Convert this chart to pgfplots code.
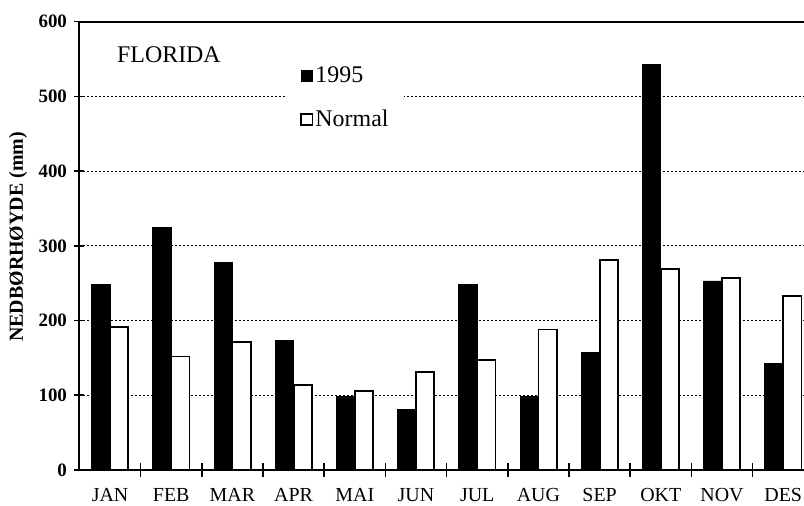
\documentclass[border=0pt]{standalone}
\usepackage{fontspec}
\setmainfont{Liberation Serif}
\usepackage{pgfplots}
\pgfplotsset{compat=1.18}
\pgfplotsset{sq legend/.style={legend image code/.code={%
    \draw[##1] (0bp,-2.8bp) rectangle (5.6bp,2.8bp);}}}

\begin{document}
\begin{tikzpicture}
\begin{axis}[
    name=ax,
    scale only axis,
    width=362.5bp,
    height=224.15bp,
    xmin=-0.507, xmax=11.34,
    ymin=0, ymax=600,
    axis x line*=bottom,
    axis y line*=left,
    axis line style={line width=0.9bp, -},
    ytick={0,100,...,600},
    xtick={0,...,11},
    xticklabels={JAN,FEB,MAR,APR,MAI,JUN,JUL,AUG,SEP,OKT,NOV,DES},
    minor xtick={0.5,1.5,...,10.5},
    tick align=center,
    major tick length=5bp,
    minor tick length=7bp,
    major x tick style={draw=none},
    tick style={black, line width=0.8bp},
    ymajorgrids,
    grid style={black, line width=0.5bp, dash pattern=on 1.2bp off 0.8bp},
    /pgf/number format/assume math mode=true,
    yticklabel style={font=\fontsize{9.5}{11}\selectfont\bfseries},
    xticklabel style={font=\fontsize{10}{12}\selectfont, inner sep=0pt, yshift=-6.3bp},
    ylabel={NEDBØRHØYDE (mm)},
    ylabel style={font=\fontsize{10}{12}\selectfont\bfseries,
        at={(axis description cs:-0.084,0.52)}, anchor=center},
    legend style={at={(axis description cs:0.287,0.923)}, anchor=north west,
        draw=none, fill=white, font=\fontsize{12}{13}\selectfont,
        inner xsep=6.5bp, inner ysep=4bp, row sep=10bp,
        nodes={inner sep=1bp}},
    legend cell align=left,
]
\addplot[ybar, bar width=0.3, bar shift=-0.15, fill=black, draw=black, sq legend]
    coordinates {
    (0,248) (1,325) (2,278) (3,173) (4,98) (5,81)
    (6,248) (7,99) (8,157) (9,543) (10,253) (11,142)
};
\addplot[ybar, bar width=0.3, bar shift=0.15, fill=white, draw=black, line width=0.9bp, sq legend]
    coordinates {
    (0,191) (1,152) (2,171) (3,114) (4,106) (5,131)
    (6,147) (7,188) (8,281) (9,269) (10,257) (11,233)
};
\legend{1995,Normal}
\draw[line width=0.9bp] (rel axis cs:0,1) -- (rel axis cs:1,1);
\node[anchor=west, font=\fontsize{12}{14}\selectfont, inner sep=0pt]
    at (axis cs:0.11,556) {FLORIDA};
\end{axis}
\pgfresetboundingbox
\path ([shift={(-39.5bp,-18bp)}]ax.south west) rectangle ([shift={(0bp,10.85bp)}]ax.north east);
\end{tikzpicture}
\end{document}
